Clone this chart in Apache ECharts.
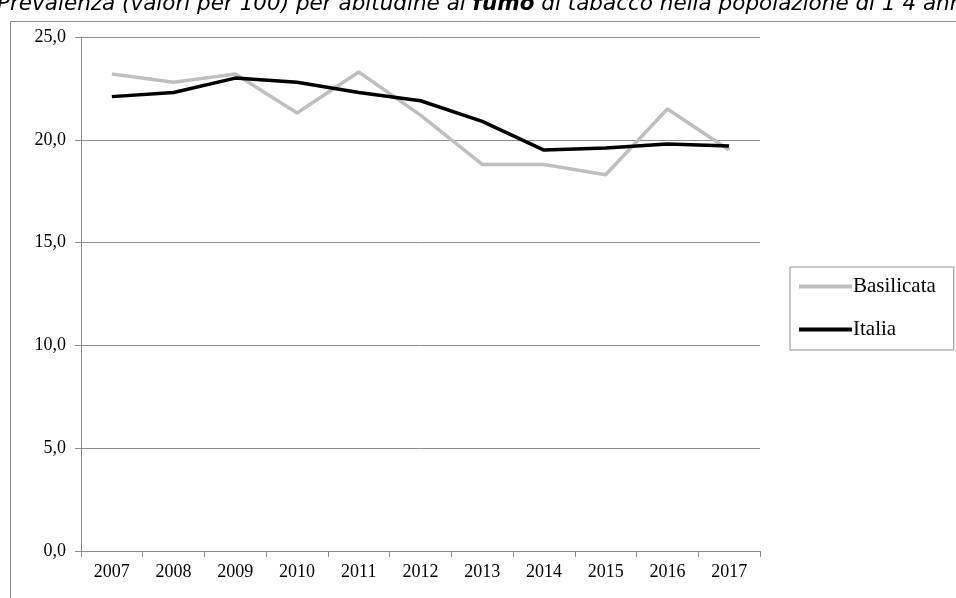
<!DOCTYPE html>
<html>
<head>
<meta charset="utf-8">
<script src="https://cdn.jsdelivr.net/npm/echarts@6/dist/echarts.min.js"></script>
<style>
html,body{margin:0;padding:0;background:#fff;}
#c{width:956px;height:598px;}
</style>
</head>
<body>
<div id="c"></div>
<script>
const years = ['2007','2008','2009','2010','2011','2012','2013','2014','2015','2016','2017'];
const basilicata = [23.2, 22.8, 23.2, 21.3, 23.3, 21.2, 18.8, 18.8, 18.3, 21.5, 19.5];
const italia = [22.1, 22.3, 23.0, 22.8, 22.3, 21.9, 20.9, 19.5, 19.6, 19.8, 19.7];
const yTicks = {min: 0, max: 25, interval: 5};

const chart = echarts.init(document.getElementById('c'), null, {renderer: 'canvas'});
const serif = '"Liberation Serif", "Times New Roman", serif';
chart.setOption({
  animation: false,
  backgroundColor: '#fff',
  graphic: [
    {type: 'rect', shape: {x: 10.5, y: 21.5, width: 1000, height: 700},
     style: {fill: 'none', stroke: '#8c8c8c', lineWidth: 1}, z: 0},
    {type: 'text', left: -3, top: -7, z: 10,
     style: {
       rich: {
         n: {fontFamily: '"DejaVu Sans", Verdana, sans-serif', fontStyle: 'italic', fontSize: 21.5, fill: '#000'},
         b: {fontFamily: '"DejaVu Sans", Verdana, sans-serif', fontStyle: 'italic', fontWeight: 'bold', fontSize: 21.5, fill: '#000'}
       },
       text: '{n|Prevalenza (valori per 100) per abitudine al }{b|fumo}{n| di tabacco nella popolazione di 1 4 anni e più}'
     }}
  ],
  legend: {
    orient: 'vertical',
    left: 790, top: 267,
    padding: [9, 18, 10, 9],
    borderColor: '#8c8c8c', borderWidth: 1,
    itemWidth: 53, itemHeight: 4, itemGap: 22,
    icon: 'rect',
    textStyle: {fontFamily: serif, fontSize: 21, color: '#000', padding: [0, 0, 0, -4]},
    data: ['Basilicata', 'Italia']
  },
  grid: {left: 81, right: 196, top: 37, bottom: 47, containLabel: false},
  xAxis: {
    type: 'category', data: years, boundaryGap: true,
    axisLine: {lineStyle: {color: '#8c8c8c', width: 1}},
    axisTick: {show: true, length: 6, lineStyle: {color: '#8c8c8c'}},
    axisLabel: {fontFamily: serif, fontSize: 18, color: '#000', margin: 12}
  },
  yAxis: {
    type: 'value', min: yTicks.min, max: yTicks.max, interval: yTicks.interval,
    axisLine: {show: true, lineStyle: {color: '#8c8c8c', width: 1}},
    axisTick: {show: true, length: 6, lineStyle: {color: '#8c8c8c'}},
    splitLine: {lineStyle: {color: '#8c8c8c', width: 1}},
    axisLabel: {fontFamily: serif, fontSize: 18, color: '#000', margin: 15,
      formatter: v => v.toFixed(1).replace('.', ',')}
  },
  series: [
    {name: 'Basilicata', type: 'line', data: basilicata, symbol: 'none',
     color: '#bfbfbf', lineStyle: {color: '#bfbfbf', width: 3.5}, z: 2},
    {name: 'Italia', type: 'line', data: italia, symbol: 'none',
     color: '#000', lineStyle: {color: '#000', width: 3.5}, z: 3}
  ]
});
</script>
</body>
</html>
